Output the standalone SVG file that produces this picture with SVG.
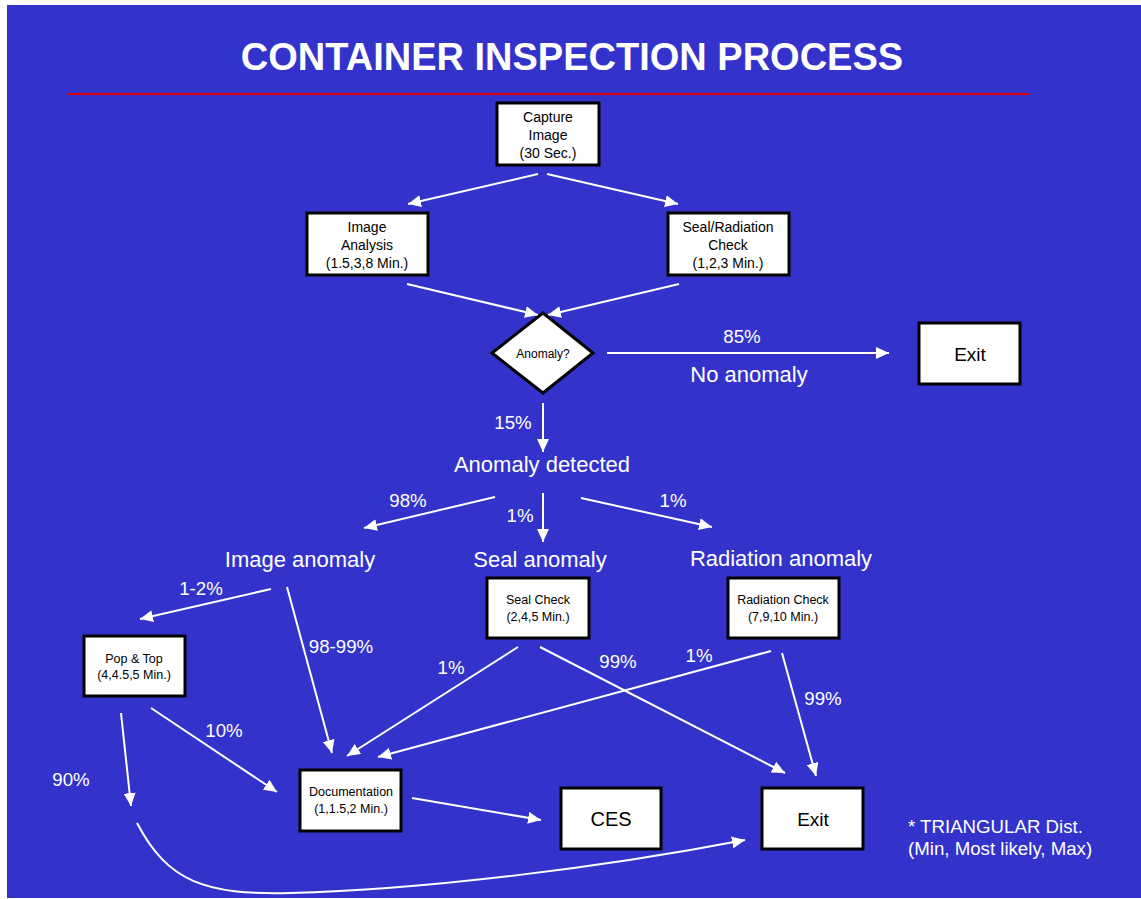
<svg xmlns="http://www.w3.org/2000/svg" width="1141" height="899" viewBox="0 0 1141 899">
<style>
.box{fill:#fff;stroke:#000;stroke-width:3}
.bt{font-family:"Liberation Sans",Arial,sans-serif;fill:#000;text-anchor:middle}
.lbl{font-family:"Liberation Sans",Arial,sans-serif;fill:#fff;text-anchor:middle;font-size:18.67px}
.note{font-family:"Liberation Sans",Arial,sans-serif;fill:#fff;text-anchor:start;font-size:18.67px}
.big{font-family:"Liberation Sans",Arial,sans-serif;fill:#fff;text-anchor:middle;font-size:22px}
.c{fill:none;stroke:#fff;stroke-width:2;marker-end:url(#ah)}
</style>
<defs>
<marker id="ah" markerUnits="userSpaceOnUse" markerWidth="14" markerHeight="12" refX="13" refY="6" orient="auto">
<path d="M0,0 L13,6 L0,12 z" fill="#fff"/>
</marker>
</defs>
<rect x="0" y="0" width="1141" height="899" fill="#fff"/>
<rect x="7" y="5" width="1134" height="893" fill="#3333cc"/>
<text x="572" y="70" font-family="Liberation Sans,Arial,sans-serif" font-weight="bold" font-size="38" fill="#fff" text-anchor="middle">CONTAINER INSPECTION PROCESS</text>
<line x1="67" y1="94" x2="1030" y2="94" stroke="#e00000" stroke-width="2"/>

<g id="connectors">
<line class="c" x1="538" y1="174" x2="408" y2="204"/>
<line class="c" x1="547" y1="174" x2="678" y2="204"/>
<line class="c" x1="407" y1="284" x2="538" y2="315"/>
<line class="c" x1="679" y1="284" x2="548" y2="315"/>
<line class="c" x1="607" y1="353" x2="889" y2="353"/>
<line class="c" x1="543" y1="403" x2="543" y2="452"/>
<line class="c" x1="495" y1="497" x2="364" y2="528"/>
<line class="c" x1="543" y1="493" x2="543" y2="542"/>
<line class="c" x1="581" y1="498" x2="712" y2="527"/>
<line class="c" x1="271" y1="589" x2="140" y2="619"/>
<line class="c" x1="287" y1="587" x2="332" y2="753"/>
<line class="c" x1="518" y1="647" x2="347" y2="756"/>
<line class="c" x1="540" y1="647" x2="785" y2="773"/>
<line class="c" x1="771" y1="651" x2="378" y2="757"/>
<line class="c" x1="782" y1="653" x2="816" y2="776"/>
<line class="c" x1="121" y1="713" x2="131" y2="806"/>
<line class="c" x1="151" y1="708" x2="277" y2="792"/>
<line class="c" x1="412" y1="798" x2="541" y2="820"/>
<path class="c" d="M137,823 C168,882 205,895 290,893 C420,890 600,868 745,840"/>
</g>

<g id="labels">
<text class="lbl" x="742" y="343">85%</text>
<text class="big" x="749" y="382">No anomaly</text>
<text class="lbl" x="513" y="429">15%</text>
<text class="big" x="542" y="472">Anomaly detected</text>
<text class="lbl" x="408" y="507">98%</text>
<text class="lbl" x="520" y="522">1%</text>
<text class="lbl" x="673" y="507">1%</text>
<text class="big" x="300" y="567">Image anomaly</text>
<text class="big" x="540" y="567">Seal anomaly</text>
<text class="big" x="781" y="566">Radiation anomaly</text>
<text class="lbl" x="201" y="595">1-2%</text>
<text class="lbl" x="341" y="653">98-99%</text>
<text class="lbl" x="451" y="674">1%</text>
<text class="lbl" x="618" y="668">99%</text>
<text class="lbl" x="699" y="662">1%</text>
<text class="lbl" x="823" y="705">99%</text>
<text class="lbl" x="224" y="737">10%</text>
<text class="lbl" x="71" y="786">90%</text>
<text class="note" x="908" y="833">* TRIANGULAR Dist.</text>
<text class="note" x="908" y="855">(Min, Most likely, Max)</text>
</g>

<g id="capture">
<rect class="box" x="497" y="103" width="102" height="62"/>
<text class="bt" font-size="14" x="548" y="122">Capture</text>
<text class="bt" font-size="14" x="548" y="140">Image</text>
<text class="bt" font-size="14" x="548" y="158">(30 Sec.)</text>
</g>
<g id="image-analysis">
<rect class="box" x="307" y="213" width="121" height="62"/>
<text class="bt" font-size="14" x="367" y="232">Image</text>
<text class="bt" font-size="14" x="367" y="250">Analysis</text>
<text class="bt" font-size="14" x="367" y="268">(1.5,3,8 Min.)</text>
</g>
<g id="seal-radiation">
<rect class="box" x="668" y="213" width="121" height="62"/>
<text class="bt" font-size="14" x="728" y="232">Seal/Radiation</text>
<text class="bt" font-size="14" x="728" y="250">Check</text>
<text class="bt" font-size="14" x="728" y="268">(1,2,3 Min.)</text>
</g>
<g id="anomaly">
<polygon points="543,313 593,353 543,393 492,353" fill="#fff" stroke="#000" stroke-width="3"/>
<text class="bt" font-size="12" x="543" y="358">Anomaly?</text>
</g>
<g id="exit-top">
<rect class="box" x="919" y="323" width="101" height="61"/>
<text class="bt" font-size="19" x="970" y="361">Exit</text>
</g>
<g id="seal-check">
<rect class="box" x="487" y="578" width="102" height="60"/>
<text class="bt" font-size="12.5" x="538" y="604">Seal Check</text>
<text class="bt" font-size="12.5" x="538" y="621">(2,4,5 Min.)</text>
</g>
<g id="radiation-check">
<rect class="box" x="728" y="578" width="111" height="60"/>
<text class="bt" font-size="12.5" x="783" y="604">Radiation Check</text>
<text class="bt" font-size="12.5" x="783" y="621">(7,9,10 Min.)</text>
</g>
<g id="pop-top">
<rect class="box" x="84" y="636" width="101" height="60"/>
<text class="bt" font-size="12.5" x="134" y="663">Pop &amp; Top</text>
<text class="bt" font-size="12.5" x="134" y="679">(4,4.5,5 Min.)</text>
</g>
<g id="documentation">
<rect class="box" x="300" y="770" width="101" height="61"/>
<text class="bt" font-size="12.5" x="351" y="796">Documentation</text>
<text class="bt" font-size="12.5" x="351" y="813">(1,1.5,2 Min.)</text>
</g>
<g id="ces">
<rect class="box" x="561" y="788" width="100" height="61"/>
<text class="bt" font-size="20" x="611" y="826">CES</text>
</g>
<g id="exit-bottom">
<rect class="box" x="762" y="788" width="101" height="61"/>
<text class="bt" font-size="19" x="813" y="826">Exit</text>
</g>
</svg>
